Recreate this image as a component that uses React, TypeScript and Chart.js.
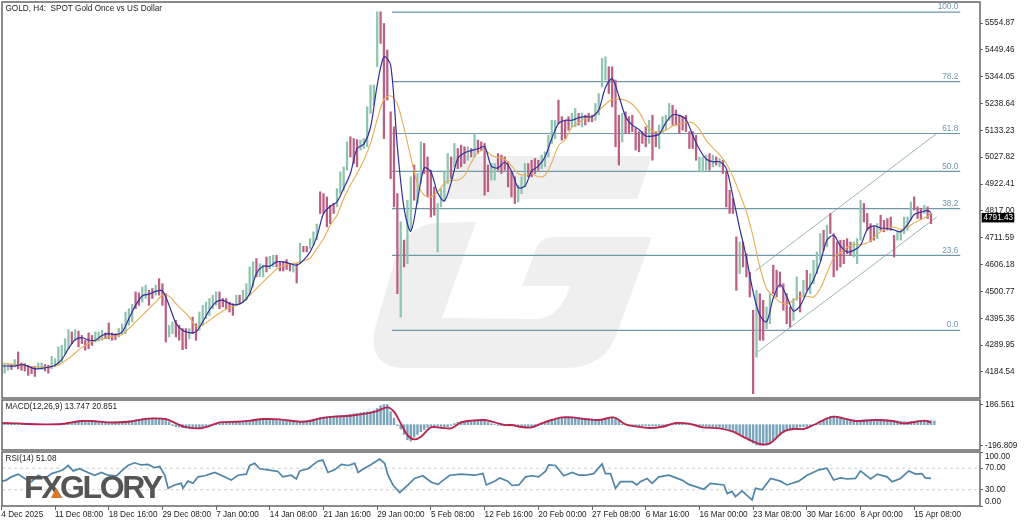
import React, { useEffect, useRef } from "react";
import { Chart, registerables } from "chart.js";

Chart.register(...registerables);

const FONT = '"Liberation Sans"';
const FONT_SIZE = 8.2;
const title = "GOLD, H4:  SPOT Gold Once vs US Dollar";
const macdTitle = "MACD(12,26,9) 13.747 20.851";
const rsiTitle = "RSI(14) 51.08";
const brand = "FXGLORY";

const dateLabels = ["4 Dec 2025","11 Dec 08:00","18 Dec 16:00","29 Dec 08:00","7 Jan 00:00","14 Jan 08:00","21 Jan 16:00","29 Jan 00:00","5 Feb 08:00","12 Feb 16:00","20 Feb 00:00","27 Feb 08:00","6 Mar 16:00","16 Mar 00:00","23 Mar 08:00","30 Mar 16:00","8 Apr 00:00","15 Apr 08:00"];
const priceTicks = [5554.87,5449.46,5344.05,5238.64,5133.23,5027.82,4922.41,4817.0,4711.59,4606.18,4500.77,4395.36,4289.95,4184.54];
const lastPrice = 4791.43;
const macdTicks = [186.561,-196.809];
const rsiTicks = [100,70,30,0];
const rsiLevels = [70,30];

const fibLabels = ["100.0","78.2","61.8","50.0","38.2","23.6","0.0"];
const fibPrices = [5598,5325,5121,4972,4826,4642,4348];
const channelUpperPrices = [4581,5121];
const channelLowerPrices = [4256,4793];

const highs = [4211,4217,4217,4214,4233,4263,4220,4217,4211,4204,4207,4220,4220,4214,4211,4246,4237,4283,4289,4315,4351,4342,4351,4345,4328,4309,4338,4328,4342,4342,4348,4338,4377,4338,4335,4355,4374,4420,4433,4450,4499,4495,4518,4525,4505,4512,4525,4551,4531,4492,4368,4381,4387,4368,4355,4355,4355,4400,4374,4420,4446,4459,4473,4486,4499,4499,4473,4473,4459,4453,4486,4486,4505,4531,4597,4617,4630,4610,4604,4636,4639,4643,4643,4617,4617,4626,4610,4610,4610,4691,4678,4678,4708,4735,4765,4892,4885,4872,4839,4846,4905,4970,4990,5088,5108,5101,5097,5095,5101,5226,5311,5311,5599,5599,5553,5449,5206,5147,4885,4774,4702,4859,4951,4997,4964,5088,5082,5029,4977,4911,4846,4905,4970,5042,5029,5082,5062,5075,5069,5069,5062,5121,5095,5088,5082,4997,5003,5003,5042,5036,5029,5010,4970,4951,4918,4951,5003,5003,5016,5023,5016,5036,5049,5114,5173,5173,5252,5187,5173,5187,5200,5219,5200,5200,5193,5200,5193,5239,5278,5416,5422,5383,5383,5331,5193,5200,5206,5187,5193,5141,5128,5128,5147,5173,5193,5128,5154,5187,5193,5239,5232,5213,5193,5187,5193,5128,5128,5114,5029,5029,5036,5042,5036,5029,5023,5016,4970,4898,4866,4715,4695,4695,4649,4577,4427,4505,4492,4466,4440,4492,4604,4584,4577,4531,4492,4440,4473,4558,4499,4545,4584,4571,4623,4656,4728,4741,4761,4807,4728,4695,4702,4702,4708,4695,4695,4708,4859,4846,4807,4767,4754,4767,4800,4780,4787,4793,4721,4735,4741,4793,4793,4852,4872,4833,4826,4839,4833,4807];
const lows = [4171,4180,4191,4194,4204,4197,4191,4188,4171,4178,4167,4194,4194,4188,4180,4197,4207,4211,4224,4256,4276,4296,4309,4283,4296,4270,4276,4289,4302,4306,4309,4315,4315,4309,4311,4322,4335,4335,4368,4381,4433,4446,4459,4473,4446,4473,4486,4486,4446,4302,4322,4335,4322,4309,4272,4276,4315,4335,4309,4348,4368,4394,4407,4433,4446,4433,4440,4433,4420,4407,4446,4453,4459,4466,4486,4518,4558,4558,4558,4577,4590,4597,4597,4581,4581,4587,4581,4577,4534,4610,4656,4656,4669,4682,4704,4807,4807,4754,4767,4807,4833,4885,4898,4977,5029,5003,4990,5056,5062,5069,5200,5232,5383,5475,5101,5252,4944,4833,4492,4400,4597,4610,4741,4859,4846,4925,4964,4872,4793,4800,4656,4833,4859,4925,4944,4990,4983,4990,5003,5016,5029,5029,5042,5056,4879,4892,4938,4938,4977,4964,4977,4911,4872,4846,4852,4885,4911,4951,4951,4964,4977,4983,4990,5029,5082,5101,5160,5095,5101,5134,5147,5147,5154,5147,5154,5167,5167,5173,5193,5304,5331,5278,5226,5069,4997,5088,5121,5121,5128,5056,5049,5082,5069,5082,5016,5069,5062,5121,5134,5173,5154,5154,5121,5134,5128,5062,5062,5016,4970,4970,4977,4977,4990,4997,4990,4964,4833,4807,4807,4505,4571,4597,4558,4479,4099,4243,4309,4309,4355,4374,4492,4479,4518,4427,4374,4361,4387,4466,4420,4479,4505,4492,4531,4571,4623,4662,4676,4728,4558,4584,4597,4610,4649,4643,4636,4610,4702,4774,4741,4695,4702,4708,4741,4735,4741,4741,4636,4702,4702,4728,4741,4780,4820,4787,4783,4807,4787,4767];
const directions = [
  "duududdddd","duudduuuuu","ududdddduu","udddduuuuu","dduudduddd","uudddduddu","uuuuuddddd","uduuuuduud",
  "uudddddudu","dduuuddddd","uuuuddduuu","uuuddddddu","duuduudddd","uuuududddu","dudddduudd","dddduuuddd",
  "duuuuudddd","uududdduuu","uddddudddd","dddudduuuu","dddddddduu","udududdddd","uddddudduu","dddddduudu",
  "duuuududdd","dddduuuddd","duddddduuu","uudddudd",
].join("");

const blueMa = [4208,4208,4208,4213,4207,4197,4199,4203,4211,4233,4276,4311,4319,4310,4309,4328,4335,4331,4342,4394,4446,4483,4490,4501,4503,4446,4377,4348,4339,4342,4381,4427,4459,4466,4453,4448,4459,4492,4571,4600,4600,4617,4617,4610,4604,4623,4656,4715,4807,4835,4852,4905,4964,5062,5079,5145,5311,5422,5390,5069,4826,4737,4859,4986,4970,4888,4856,4927,5023,5045,5054,5061,5069,4993,4986,5008,4974,4909,4914,4973,4993,5029,5101,5160,5173,5173,5183,5187,5187,5213,5302,5336,5268,5187,5154,5137,5111,5111,5118,5164,5194,5192,5176,5114,5059,5021,5010,5010,4983,4872,4748,4634,4499,4407,4381,4475,4528,4482,4424,4444,4499,4547,4615,4702,4721,4680,4656,4662,4682,4744,4758,4750,4748,4742,4735,4763,4803,4812,4818,4811];
const orangeMa = [4220,4217,4214,4211,4208,4204,4204,4204,4207,4220,4237,4259,4280,4296,4309,4315,4322,4326,4332,4355,4381,4407,4433,4459,4486,4482,4453,4427,4400,4364,4368,4387,4407,4424,4437,4446,4459,4486,4512,4538,4564,4588,4604,4610,4613,4621,4632,4669,4708,4761,4800,4866,4918,4964,5016,5082,5176,5255,5269,5236,5141,5029,4925,4879,4872,4892,4925,4938,4938,4955,5007,5045,5056,5036,5027,5020,4994,4964,4957,4964,4951,4957,5007,5073,5097,5145,5163,5180,5187,5210,5236,5255,5256,5252,5236,5206,5158,5130,5128,5134,5150,5158,5164,5163,5137,5095,5065,5038,5003,4951,4885,4813,4715,4597,4512,4482,4459,4450,4466,4482,4482,4479,4512,4573,4632,4653,4673,4685,4685,4691,4712,4735,4748,4754,4744,4754,4770,4783,4796,4807];

const macdHist = [6,6,5,4,3,3,2,2,1,1,1,1,1,2,3,4,5,6,8,10,18,22,24,26,28,30,28,26,25,22,22,20,20,22,24,25,28,32,36,40,45,50,55,58,58,57,55,52,50,42,25,-8,-18,-22,-28,-30,-33,-33,-36,-36,-30,-18,-10,-5,5,12,20,22,25,26,28,30,32,36,40,48,52,53,50,50,48,45,42,38,35,32,30,28,26,26,30,36,44,52,60,66,70,72,75,78,80,82,85,90,95,100,105,110,115,118,120,130,150,175,186,186,120,60,-8,-40,-90,-140,-152,-115,-90,-65,-45,-25,-15,-12,-14,-16,-20,-18,-5,10,22,28,30,32,34,36,38,38,38,20,8,0,-5,-8,-10,-10,-10,-8,-12,-15,-18,-20,-22,-20,-10,5,15,25,35,45,55,65,70,72,70,68,65,62,58,56,52,50,48,50,55,60,70,66,30,5,0,-8,-10,-12,-12,-12,-12,-12,-10,-10,-10,-8,-5,0,8,10,12,10,5,0,-5,-10,-10,-12,-15,-18,-20,-22,-25,-28,-35,-48,-55,-70,-85,-100,-130,-150,-170,-188,-190,-188,-180,-165,-145,-120,-95,-75,-55,-42,-35,-30,-22,-18,-16,-10,0,12,30,45,62,75,78,72,65,58,52,45,42,40,42,46,48,50,50,50,48,46,44,42,40,36,32,28,25,28,32,35,38,40,40,38,35];
const macdSignalIdx = [0,5,8,13,18,21,24,27,32,38,42,45,49,52,55,59,62,65,70,74,78,83,89,92,95,99,104,109,112,115,117,119,121,123,125,128,131,134,137,140,144,147,150,152,155,158,161,164,167,170,174,178,182.5,186,189,193,197,201,205,209,214,218,222,226,229,233,236,239,242,245,248,251,254.5,260.5,265.5,269,275,277];
const macdSignal = [15,12,6,3,6,21,34,34,21,27,49,58,52,12,-22,-34,-13,21,27,37,52,49,27,34,58,74,83,104,126,160,120,12,-96,-136,-111,-25,-28,-34,21,37,43,21,-3,-3,-22,-25,12,43,67,67,52,43,67,3,-16,-31,-19,15,9,-25,-34,-65,-127,-179,-173,-65,-40,-40,-3,43,74,58,34,43,34,12,37,21];

const rsiIdx = [0,1.5,3,5,7,9,11,13,15,17,18.4,19.9,21.4,23.3,25.8,27.8,29.8,31.8,34.3,36.2,37.7,39.7,41.7,43.7,45.7,47.2,48.7,49.7,51.6,53.6,54.1,55.6,57.1,58.6,60.6,63.6,65.5,68.5,70.5,73,74,75.5,77,79.4,82.4,83.9,86.4,87.9,88.9,91.4,94.3,95.8,97.3,99.3,101.3,103.3,105.3,106.3,108.2,110.2,112.7,114.2,115.2,116.7,118.7,121.2,123.1,125.6,128.1,130.1,133.6,137,141,143.5,144.5,147,148.5,150.9,152.2,154.2,156.2,158.2,160.1,162.1,163.1,165.1,167.6,170.1,172.1,174,176.5,179,180,181.5,183,184.5,188,189.4,190.4,192.4,193.9,195.9,198.9,202.8,204.8,209.3,211.3,215.3,216.3,217.7,218.7,220.7,223.7,224.7,226.7,229.2,232.1,234.1,237.6,240.1,243.6,246,248,250,252,254.5,256,259,261,263.9,265.4,267.9,270.4,272.4,274.3,275.3,277];
const rsiValues = [46,48,54,59,51,45,57,51,60,64,67,75,65,69,62,57,62,57,56,67,75,80,76,77,71,73,57,33,39,42,33,46,42,54,56,62,57,48,57,59,75,79,69,67,64,54,57,50,65,69,83,85,62,67,77,75,79,62,70,77,87,79,57,39,25,39,51,56,44,40,57,59,57,60,39,46,52,46,38,39,54,56,54,64,76,75,56,62,57,57,60,78,60,60,33,45,45,39,45,51,42,54,57,48,40,31,42,39,23,27,17,28,11,33,30,51,46,39,46,57,67,70,48,52,50,51,65,50,59,54,45,51,65,59,60,52,51.08];

const XMIN = 0.2;
const XMAX = 291.6;
const FIB_START = 116.4;
const FIB_END = 285.7;
const CH_START = 224.6;
const CH_END = 278.7;
const TICK_STEP = 16;

const PANEL_FRAME = "#666666";
const TEXT = "#222222";
const UP = "#8fc4ae";
const DOWN = "#bb6083";

const framePlugin = {
  id: "frame",
  afterDraw(chart: any) {
    const { ctx, chartArea: a } = chart;
    ctx.save();
    ctx.strokeStyle = PANEL_FRAME;
    ctx.lineWidth = 1.5;
    ctx.strokeRect(a.left, a.top, a.right - a.left, a.bottom - a.top);
    ctx.restore();
  },
};

function titlePlugin(text: string) {
  return {
    id: "panelTitle",
    afterDraw(chart: any) {
      const { ctx, chartArea: a } = chart;
      ctx.save();
      ctx.font = `${FONT_SIZE}px ${FONT}`;
      ctx.fillStyle = TEXT;
      ctx.textBaseline = "middle";
      ctx.textAlign = "left";
      ctx.fillText(text, a.left + 3.5, a.top + 6.5);
      ctx.restore();
    },
  };
}

const watermarkPlugin = {
  id: "watermark",
  beforeDatasetsDraw(chart: any) {
    const { ctx } = chart;
    ctx.save();
    ctx.fillStyle = "#efefef";
    ctx.beginPath();
    ctx.moveTo(453, 156);
    ctx.lineTo(652, 156);
    ctx.lineTo(637, 199);
    ctx.lineTo(440, 199);
    ctx.closePath();
    ctx.fill();
    ctx.beginPath();
    ctx.moveTo(476, 222);
    ctx.lineTo(435, 223);
    ctx.quadraticCurveTo(405, 228, 397, 253);
    ctx.lineTo(375, 328);
    ctx.quadraticCurveTo(367, 366, 402, 368);
    ctx.lineTo(565, 368);
    ctx.quadraticCurveTo(605, 368, 617, 333);
    ctx.lineTo(652, 237);
    ctx.lineTo(556, 237);
    ctx.quadraticCurveTo(540, 237, 537, 247);
    ctx.lineTo(522, 286);
    ctx.lineTo(570, 286);
    ctx.quadraticCurveTo(560, 319, 535, 319);
    ctx.lineTo(442, 318);
    ctx.closePath();
    ctx.fill();
    ctx.restore();
  },
};

const fibLabelPlugin = {
  id: "fibLabels",
  afterDatasetsDraw(chart: any) {
    const { ctx, scales } = chart;
    ctx.save();
    ctx.font = `${FONT_SIZE}px ${FONT}`;
    ctx.fillStyle = "#6f97aa";
    ctx.textAlign = "right";
    ctx.textBaseline = "bottom";
    fibLabels.forEach((t, i) => {
      ctx.fillText(t, scales.x.getPixelForValue(FIB_END) - 2, scales.y.getPixelForValue(fibPrices[i]) - 1);
    });
    ctx.restore();
  },
};

const lastPricePlugin = {
  id: "lastPrice",
  afterDraw(chart: any) {
    const { ctx, scales, chartArea } = chart;
    const y = scales.y.getPixelForValue(lastPrice);
    ctx.save();
    ctx.fillStyle = "#000000";
    ctx.fillRect(chartArea.right + 1.7, y - 4.5, 32.6, 9.5);
    ctx.font = `${FONT_SIZE}px ${FONT}`;
    ctx.fillStyle = "#ffffff";
    ctx.textBaseline = "middle";
    ctx.textAlign = "left";
    ctx.fillText(lastPrice.toFixed(2), chartArea.right + 3.5, y + 0.5);
    ctx.restore();
  },
};

const rsiLabelPlugin = {
  id: "rsiLabels",
  afterDraw(chart: any) {
    const { ctx, scales, chartArea } = chart;
    ctx.save();
    ctx.font = `${FONT_SIZE}px ${FONT}`;
    ctx.fillStyle = TEXT;
    ctx.textBaseline = "middle";
    ctx.textAlign = "left";
    rsiTicks.forEach((v) => {
      let y = scales.y.getPixelForValue(v);
      if (v === 100) y += 4.5;
      if (v === 0) y -= 4.5;
      ctx.fillText(v.toFixed(2), chartArea.right + 5, y);
    });
    ctx.restore();
  },
};

const brandPlugin = {
  id: "brand",
  afterDraw(chart: any) {
    const { ctx } = chart;
    ctx.save();
    ctx.font = `bold 32px ${FONT}`;
    (ctx as any).letterSpacing = "-2.4px";
    ctx.fillStyle = "#555555";
    ctx.textBaseline = "alphabetic";
    ctx.textAlign = "left";
    ctx.fillText(brand, 24, 47);
    ctx.fillStyle = "#d9772a";
    ctx.beginPath();
    ctx.moveTo(56, 37);
    ctx.lineTo(62, 47);
    ctx.lineTo(51, 47);
    ctx.closePath();
    ctx.fill();
    ctx.restore();
  },
};

function yAxis(min: number, max: number, ticks: number[], digits: number, showLabels = true) {
  return {
    type: "linear",
    position: "right",
    min,
    max,
    afterFit(s: any) {
      s.width = 44;
      s.paddingTop = 0;
      s.paddingBottom = 0;
    },
    afterBuildTicks(s: any) { s.ticks = ticks.map((value) => ({ value })); },
    border: { display: false },
    grid: { drawOnChartArea: false, tickLength: 3, color: "#666666" },
    ticks: {
      display: showLabels,
      color: TEXT,
      padding: 2,
      crossAlign: "near",
      autoSkip: false,
      font: { family: FONT, size: FONT_SIZE },
      callback: (v: number) => Number(v).toFixed(digits),
    },
  };
}

const hiddenX = () => ({ type: "linear", min: XMIN, max: XMAX, display: false, offset: false });
const LAYOUT_X = { left: 2, right: 0 };

export default function App() {
  const mainRef = useRef<HTMLCanvasElement>(null);
  const macdRef = useRef<HTMLCanvasElement>(null);
  const rsiRef = useRef<HTMLCanvasElement>(null);

  useEffect(() => {
    const line = (data: any[], color: string, width: number, order: number, extra: any = {}) => ({
      type: "line",
      data,
      borderColor: color,
      borderWidth: width,
      pointRadius: 0,
      order,
      ...extra,
    });

    const main = new Chart(mainRef.current as any, {
      type: "bar",
      data: {
        datasets: [
          ...fibPrices.map((p) => line([{ x: FIB_START, y: p }, { x: FIB_END, y: p }], "#6f97aa", 1.2, 5)),
          line(channelUpperPrices.map((p, i) => ({ x: i ? CH_END : CH_START, y: p })), "#7fa3a8", 0.8, 5),
          line(channelLowerPrices.map((p, i) => ({ x: i ? CH_END : CH_START, y: p })), "#7fa3a8", 0.8, 5),
          {
            type: "bar",
            data: highs.map((h, i) => ({ x: i, y: [lows[i], h] })),
            backgroundColor: highs.map((_, i) => (directions[i] === "u" ? UP : DOWN)),
            barThickness: 1.6,
            grouped: false,
            order: 3,
          },
          line(orangeMa.map((v, i) => ({ x: Math.min(i * 2, 277), y: v })), "#e8ac55", 1.1, 2, { tension: 0.3 }),
          line(blueMa.map((v, i) => ({ x: Math.min(i * 2, 277), y: v })), "#2f2f9f", 1.2, 1, { tension: 0.3 }),
        ],
      } as any,
      options: {
        animation: false,
        responsive: false,
        maintainAspectRatio: false,
        layout: { autoPadding: false, padding: { ...LAYOUT_X, top: 2, bottom: 1 } },
        plugins: { legend: { display: false }, tooltip: { enabled: false } },
        scales: {
          x: hiddenX(),
          y: yAxis(4082.3, 5637.4, priceTicks, 2),
        },
      } as any,
      plugins: [watermarkPlugin, fibLabelPlugin, framePlugin, titlePlugin(title), lastPricePlugin],
    });

    const macd = new Chart(macdRef.current as any, {
      type: "bar",
      data: {
        datasets: [
          {
            type: "bar",
            data: macdHist.map((v, i) => ({ x: i, y: v })),
            backgroundColor: "#7aa6bd",
            barThickness: 1.8,
            grouped: false,
            order: 2,
          },
          line(macdSignal.map((v, i) => ({ x: macdSignalIdx[i], y: v })), "#b8264f", 1.9, 1, { tension: 0.3 }),
        ],
      } as any,
      options: {
        animation: false,
        responsive: false,
        maintainAspectRatio: false,
        layout: { autoPadding: false, padding: { ...LAYOUT_X, top: 1, bottom: 1 } },
        plugins: { legend: { display: false }, tooltip: { enabled: false } },
        scales: {
          x: hiddenX(),
          y: yAxis(-234, 228, macdTicks, 3),
        },
      } as any,
      plugins: [framePlugin, titlePlugin(macdTitle)],
    });

    const rsi = new Chart(rsiRef.current as any, {
      type: "line",
      data: {
        datasets: [
          ...rsiLevels.map((lv) => line([{ x: XMIN, y: lv }, { x: XMAX, y: lv }], "#c4c4c4", 0.8, 3, { borderDash: [3, 3] })),
          line(rsiValues.map((v, i) => ({ x: rsiIdx[i], y: v })), "#4f86a8", 1.7, 1),
        ],
      } as any,
      options: {
        animation: false,
        responsive: false,
        maintainAspectRatio: false,
        layout: { autoPadding: false, padding: { ...LAYOUT_X, top: 1, bottom: 0 } },
        plugins: { legend: { display: false }, tooltip: { enabled: false } },
        scales: {
          x: {
            type: "linear",
            min: XMIN,
            max: XMAX,
            afterFit(s: any) { s.height = 18; },
            afterBuildTicks(s: any) { s.ticks = dateLabels.map((_, i) => ({ value: i * TICK_STEP })); },
            border: { display: false },
            grid: { drawOnChartArea: false, tickLength: 4, color: "#666666" },
            ticks: {
              color: TEXT,
              align: "start",
              padding: 0,
              autoSkip: false,
              maxRotation: 0,
              minRotation: 0,
              font: { family: FONT, size: FONT_SIZE },
              callback: (v: number) => dateLabels[Math.round(v / TICK_STEP)],
            },
          },
          y: yAxis(0, 100, rsiTicks, 2, false),
        },
      } as any,
      plugins: [framePlugin, titlePlugin(rsiTitle), rsiLabelPlugin, brandPlugin],
    });

    return () => {
      main.destroy();
      macd.destroy();
      rsi.destroy();
    };
  }, []);

  const abs = (top: number): React.CSSProperties => ({ position: "absolute", left: 0, top, display: "block" });
  return (
    <div style={{ position: "fixed", left: 0, top: 0, width: 1024, height: 524, background: "#fff", overflow: "hidden" }}>
      <canvas ref={mainRef} width={1024} height={399} style={abs(0)} />
      <canvas ref={macdRef} width={1024} height={52} style={abs(399)} />
      <canvas ref={rsiRef} width={1024} height={73} style={abs(451)} />
    </div>
  );
}
